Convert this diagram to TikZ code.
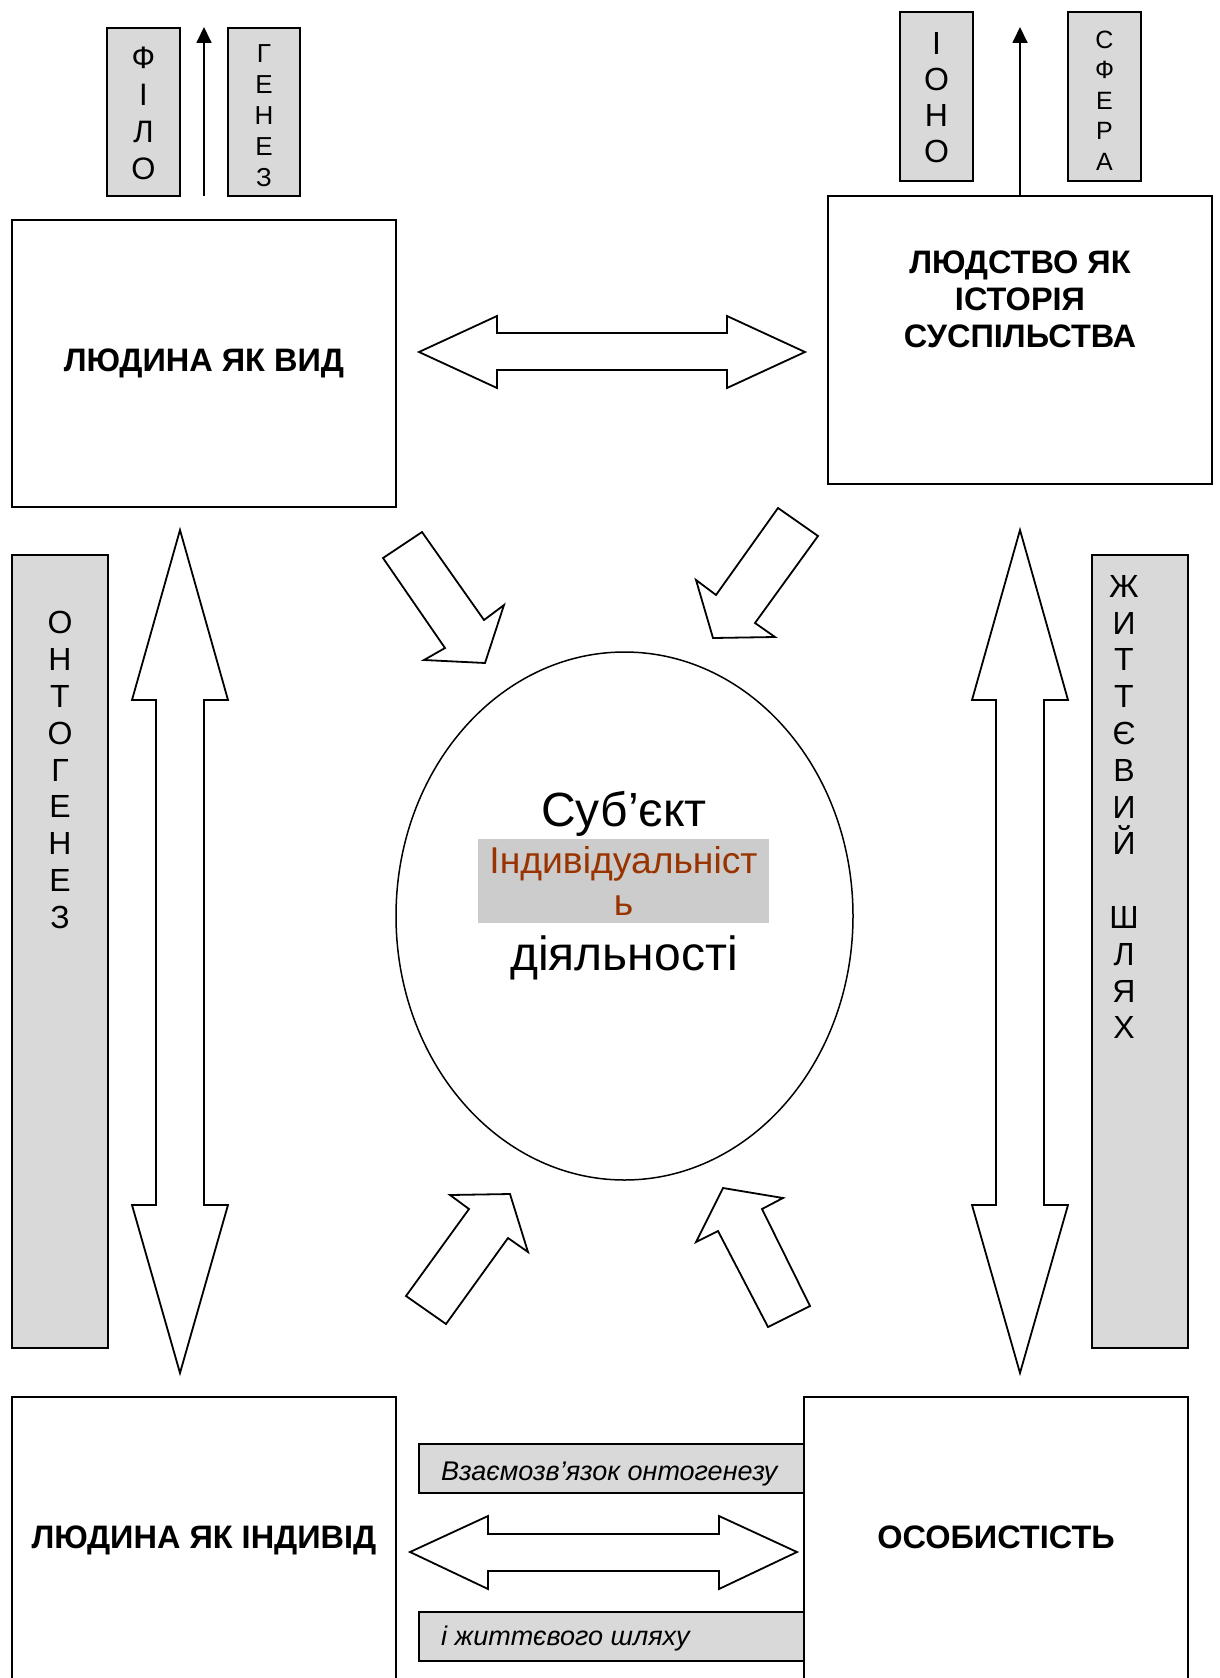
\documentclass[tikz,border=0pt]{standalone}
\usepackage{fontspec}
\setmainfont{Liberation Sans}
\usetikzlibrary{shapes.geometric,arrows.meta}
\definecolor{grau}{HTML}{D9D9D9}
\definecolor{graumitte}{HTML}{CCCCCC}
\definecolor{braun}{HTML}{993300}
\tikzset{
	box/.style={draw,line width=2pt,fill=white,inner sep=0pt},
	graubox/.style={draw,line width=2pt,fill=grau,inner sep=0pt},
	titel/.style={align=center,inner sep=0pt,font=\fontsize{32.5}{37}\selectfont\bfseries},
	buchstaben/.style={align=center,inner sep=0pt,font=\fontsize{32}{36.8}\selectfont},
	schmal/.style={align=center,inner sep=0pt,font=\fontsize{26}{31}\selectfont},
	kursiv/.style={anchor=west,inner sep=0pt,font=\fontsize{27}{31}\selectfont\itshape},
	pfeil/.style={line width=1.8pt,-{Triangle[length=16pt,width=15pt]}},
	blockpfeil/.style={draw,line width=1.8pt,fill=white,line join=miter}
}
\begin{document}
\begin{tikzpicture}
	\begin{scope}[x=1pt,y=-1pt]
		\useasboundingbox (0,0) rectangle (1219,1678);
		\clip (0,0) rectangle (1219,1678);
		\node[graubox,minimum width=73pt,minimum height=168pt] (Filo) at (143.5,112) {};
		\node[buchstaben,font=\fontsize{31}{37}\selectfont] at ([yshift=-1pt]Filo.center) {Ф\\І\\Л\\О};
		\node[graubox,minimum width=72pt,minimum height=168pt] (Genez) at (264,112) {};
		\node[schmal] at ([yshift=-4pt]Genez.center) {Г\\Е\\Н\\Е\\З};
		\coordinate (FiloUnten) at (204,196);
		\coordinate (FiloOben) at (204,27);
		\draw[pfeil] (FiloUnten) -- (FiloOben);
		\node[graubox,minimum width=73pt,minimum height=169pt] (Iono) at (936.5,96.5) {};
		\node[buchstaben,font=\fontsize{32}{36}\selectfont] at ([yshift=-1pt]Iono.center) {І\\О\\Н\\О};
		\node[graubox,minimum width=73pt,minimum height=169pt] (Sfera) at (1104.5,96.5) {};
		\node[schmal,font=\fontsize{25}{30.5}\selectfont] at ([yshift=-4pt]Sfera.center) {С\\Ф\\Е\\Р\\А};
		\node[box,titel,minimum width=384pt,minimum height=287pt] (Vid) at (204,363.5) {ЛЮДИНА ЯК ВИД};
		\node[box,minimum width=384pt,minimum height=288pt] (Ljudstvo) at (1020,340) {};
		\node[titel] (LjudstvoText) at (1020,299) {ЛЮДСТВО ЯК\\ІСТОРІЯ\\СУСПІЛЬСТВА};
		\coordinate (LjudstvoOben) at (1020,27);
		\draw[pfeil] (Ljudstvo.north) -- (LjudstvoOben);
		\draw[blockpfeil] (419,352) -- (497,316) -- (497,333) -- (727,333) -- (727,316) -- (805,352) -- (727,388) -- (727,370) -- (497,370) -- (497,388) -- cycle;
		\node[graubox,minimum width=96pt,minimum height=793pt] (Ontogenez) at (60,951.5) {};
		\node[buchstaben] at (60,770) {О\\Н\\Т\\О\\Г\\Е\\Н\\Е\\З};
		\node[graubox,minimum width=96pt,minimum height=793pt] (Shljakh) at (1140,951.5) {};
		\node[buchstaben] at (1124,807) {Ж\\И\\Т\\Т\\Є\\В\\И\\Й\\[36.8pt]Ш\\Л\\Я\\Х};
		\draw[blockpfeil] (180,530) -- (228,700) -- (204,700) -- (204,1205) -- (228,1205) -- (180,1373) -- (132,1205) -- (156,1205) -- (156,700) -- (132,700) -- cycle;
		\draw[blockpfeil] (1020,530) -- (1068,700) -- (1044,700) -- (1044,1205) -- (1068,1205) -- (1020,1373) -- (972,1205) -- (996,1205) -- (996,700) -- (972,700) -- cycle;
		\draw[blockpfeil] (383,558) -- (422,532) -- (484,620) -- (504,605) -- (485,663) -- (424,660) -- (445,648) -- cycle;
		\draw[blockpfeil] (778,508) -- (818,536) -- (755,623) -- (775,637) -- (713,638) -- (696,580) -- (716,595) -- cycle;
		\draw[blockpfeil] (406,1296) -- (469,1209) -- (450,1195) -- (510,1194) -- (528,1252) -- (508,1238) -- (446,1324) -- cycle;
		\draw[blockpfeil] (768,1327) -- (718,1231) -- (696,1242) -- (723,1188) -- (783,1198) -- (762,1209) -- (810,1306) -- cycle;
		\node[draw,ellipse,line width=1.5pt,minimum width=457pt,minimum height=528pt,inner sep=0pt] (Subjekt) at (624.5,916) {};
		\node[font=\fontsize{48}{55}\selectfont,inner sep=0pt] (SubjektOben) at (624,814) {Суб’єкт};
		\node[fill=graumitte,minimum width=291pt,minimum height=84pt,inner sep=0pt,align=center,text=braun,font=\fontsize{37.3}{42}\selectfont] (Individualnist) at (623.5,881) {Індивідуальніст\\ь};
		\node[font=\fontsize{48}{55}\selectfont,inner sep=0pt] (SubjektUnten) at (624,958) {діяльності};
		\node[graubox,minimum width=385pt,minimum height=49pt] (Vzajemo) at (611.5,1468.5) {};
		\node[kursiv] at (441,1474) {Взаємозв’язок онтогенезу};
		\node[graubox,minimum width=387pt,minimum height=49pt] (Shljakhu) at (612.5,1636.5) {};
		\node[kursiv] at (441,1638) {і життєвого шляху};
		\draw[blockpfeil] (410,1552) -- (488,1516) -- (488,1534) -- (719,1534) -- (719,1516) -- (797,1552) -- (719,1589) -- (719,1571) -- (488,1571) -- (488,1589) -- cycle;
		\node[box,titel,minimum width=384pt,minimum height=287pt] (Indyvid) at (204,1540.5) {ЛЮДИНА ЯК ІНДИВІД};
		\node[box,minimum width=384pt,minimum height=287pt] (Osobystist) at (996,1540.5) {};
		\node[titel] (OsobystistText) at (996,1537) {ОСОБИСТІСТЬ};
	\end{scope}
\end{tikzpicture}
\end{document}
